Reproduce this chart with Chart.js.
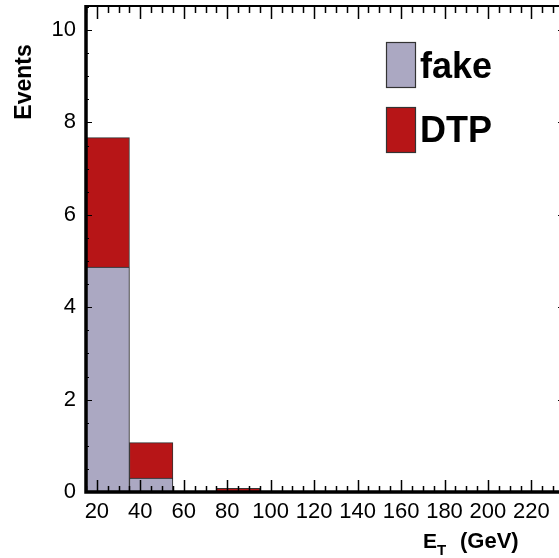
<!DOCTYPE html>
<html>
<head>
  <meta charset="UTF-8" />
  <title>E_T distribution</title>
  <script src="https://cdn.jsdelivr.net/npm/chart.js"></script>
  <style>
    html, body { margin: 0; padding: 0; background: #fff; overflow: hidden; }
    canvas { display: block; }
  </style>
</head>
<body>
  <canvas id="hist" width="565" height="558" style="width:565px;height:558px"></canvas>

  <script>
    // bins are 20 GeV wide, from 15 to 235
    const binCenters = [25, 45, 85];
    const fakeCounts = [4.87, 0.30, null];
    const dtpCounts = [2.80, 0.77, 0.08];
    const seriesNames = ['fake', 'DTP'];
    const seriesColors = ['#aba8c2', '#b71517'];
    const xTickValues = [20, 40, 60, 80, 100, 120, 140, 160, 180, 200, 220];
    const yTickValues = [0, 2, 4, 6, 8, 10];

    const FONT = '"Liberation Sans", Arial, sans-serif';

    // axis frame, ticks pointing inwards, titles and legend
    const framePlugin = {
      id: 'frame',
      afterDraw(chart) {
        const { ctx, chartArea: a, scales: { x, y } } = chart;
        ctx.save();
        ctx.strokeStyle = '#000';

        ctx.lineWidth = 1.5;
        ctx.beginPath();
        for (let v = 15; v <= 235; v += 5) {
          const px = Math.round(x.getPixelForValue(v)) + 0.5;
          const major = v % 20 === 0;
          ctx.moveTo(px, a.bottom);
          ctx.lineTo(px, a.bottom - (major ? 12 : 6));
          ctx.moveTo(px, a.top);
          ctx.lineTo(px, a.top + (major ? 13 : 7));
        }
        ctx.stroke();

        ctx.lineWidth = 1.2;
        ctx.beginPath();
        for (let v = 0; v <= 10.5; v += 0.5) {
          const py = Math.round(y.getPixelForValue(v)) + 0.5;
          const major = v % 2 === 0;
          ctx.moveTo(a.left, py);
          ctx.lineTo(a.left + (major ? 6 : 3), py);
          ctx.moveTo(a.right, py);
          ctx.lineTo(a.right - (major ? 6 : 3), py);
        }
        ctx.stroke();

        // frame
        ctx.lineWidth = 2;
        ctx.beginPath();
        ctx.moveTo(a.left, a.top);
        ctx.lineTo(a.right, a.top);
        ctx.lineTo(a.right, a.bottom);
        ctx.stroke();
        ctx.lineWidth = 3.5;
        ctx.beginPath();
        ctx.moveTo(a.left, a.top - 1);
        ctx.lineTo(a.left, a.bottom);
        ctx.lineTo(a.right, a.bottom);
        ctx.stroke();

        // y title
        ctx.fillStyle = '#000';
        ctx.save();
        ctx.translate(31, 82);
        ctx.rotate(-Math.PI / 2);
        ctx.font = 'bold 23px ' + FONT;
        ctx.textAlign = 'center';
        ctx.textBaseline = 'alphabetic';
        ctx.fillText('Events', 0, 0);
        ctx.restore();

        // x title E_T (GeV)
        ctx.textAlign = 'left';
        ctx.textBaseline = 'alphabetic';
        ctx.font = 'bold 21px ' + FONT;
        ctx.fillText('E', 423, 548);
        ctx.font = 'bold 15px ' + FONT;
        ctx.fillText('T', 437, 555);
        ctx.font = 'bold 22px ' + FONT;
        ctx.fillText('(GeV)', 460, 548);

        // legend
        const rows = [{ top: 42, base: 78 }, { top: 107, base: 142 }];
        chart.data.datasets.forEach((ds, i) => {
          const r = rows[i];
          ctx.fillStyle = ds.backgroundColor;
          ctx.fillRect(386, r.top, 29, 45);
          ctx.lineWidth = 1.2;
          ctx.strokeStyle = '#333';
          ctx.strokeRect(386.5, r.top + 0.5, 29, 45);
          ctx.fillStyle = '#000';
          ctx.font = 'bold 36px ' + FONT;
          ctx.fillText(ds.label, 420, r.base);
        });

        ctx.restore();
      }
    };

    const makeSeries = (vals) => binCenters.map((c, i) => ({ x: c, y: vals[i] }));

    new Chart(document.getElementById('hist'), {
      type: 'bar',
      data: {
        datasets: [
          {
            label: seriesNames[0],
            data: makeSeries(fakeCounts),
            backgroundColor: seriesColors[0],
            borderColor: '#222',
            borderWidth: 1,
            barPercentage: 1,
            categoryPercentage: 1
          },
          {
            label: seriesNames[1],
            data: makeSeries(dtpCounts),
            backgroundColor: seriesColors[1],
            borderColor: '#333',
            borderWidth: 1,
            barPercentage: 1,
            categoryPercentage: 1
          }
        ]
      },
      options: {
        responsive: false,
        animation: false,
        devicePixelRatio: 1,
        layout: { padding: { top: 6, right: 1, left: 0, bottom: 0 } },
        plugins: {
          legend: { display: false },
          tooltip: { enabled: false }
        },
        scales: {
          x: {
            type: 'linear',
            stacked: true,
            min: 15,
            max: 235,
            offset: false,
            grid: { display: false, drawTicks: false },
            border: { display: false },
            afterBuildTicks: (s) => { s.ticks = xTickValues.map(v => ({ value: v })); },
            afterFit: (s) => { s.height = 66; s.paddingLeft = 0; s.paddingRight = 0; },
            ticks: {
              padding: 7,
              maxRotation: 0,
              autoSkip: false,
              color: '#000',
              font: { family: FONT, size: 22 }
            }
          },
          y: {
            stacked: true,
            min: 0,
            max: 10.52,
            grid: { display: false, drawTicks: false },
            border: { display: false },
            afterBuildTicks: (s) => { s.ticks = yTickValues.map(v => ({ value: v })); },
            afterFit: (s) => { s.width = 86; s.paddingTop = 0; s.paddingBottom = 0; },
            ticks: {
              padding: 10,
              color: '#000',
              font: { family: FONT, size: 22 }
            }
          }
        }
      },
      plugins: [framePlugin]
    });
  </script>
</body>
</html>
